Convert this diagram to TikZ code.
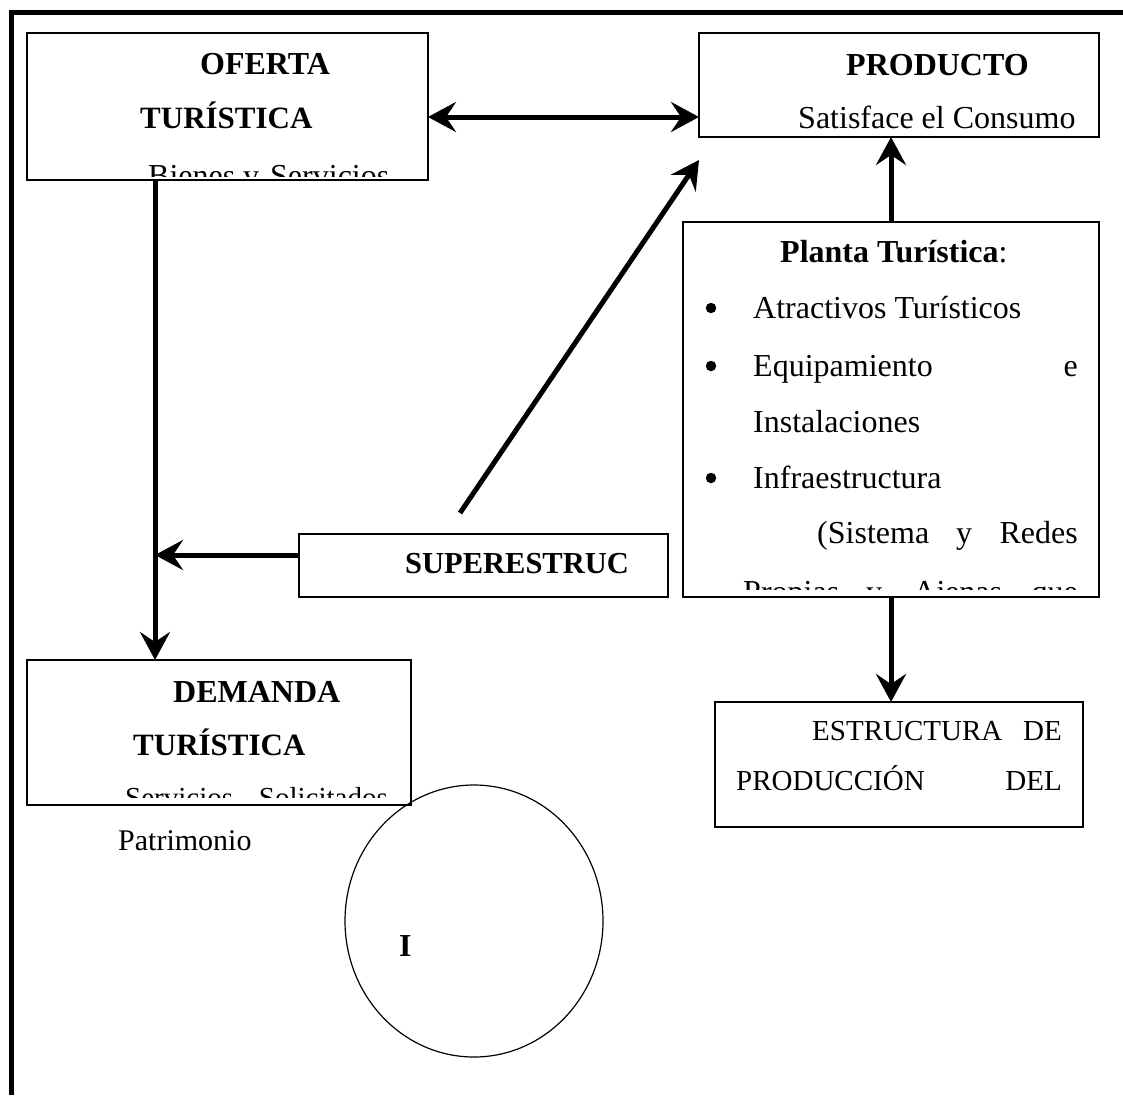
\documentclass[tikz,border=0pt]{standalone}
\usepackage{fontspec}
\setmainfont{Liberation Serif}
\usetikzlibrary{arrows.meta,shapes.geometric,calc}
\begin{document}
\begin{tikzpicture}[x=1pt,y=-1pt,
 box/.style={draw, line width=1.5pt, rectangle, inner sep=0pt, outer sep=0pt, anchor=north west},
 txt/.style={anchor=base west, inner sep=0pt, font=\fontsize{32}{38}\selectfont},
 txte/.style={anchor=base east, inner sep=0pt, font=\fontsize{32}{38}\selectfont},
 txtb/.style={anchor=base west, inner sep=0pt, font=\fontsize{32}{38}\selectfont\bfseries},
 sm/.style={font=\fontsize{29}{35}\selectfont},
 bul/.style={circle, fill=black, inner sep=0pt, minimum size=10.5pt},
 arr/.style={line width=5pt, -{Stealth[length=28pt,width=30pt,inset=10pt]}},
 darr/.style={line width=5pt, {Stealth[length=28pt,width=30pt,inset=10pt]}-{Stealth[length=28pt,width=30pt,inset=10pt]}},
]
\fill[white] (0,0) rectangle (1123,1095);
\useasboundingbox (0,0) rectangle (1123,1095);
% frame
\draw[line width=5pt, line join=miter] (11.5,1095) -- (11.5,12.5) -- (1123,12.5);

% boxes
\node[box, minimum width=401pt, minimum height=147pt] (ofe) at (27,33) {};
\node[box, minimum width=400pt, minimum height=104pt] (pro) at (699,33) {};
\node[box, minimum width=416pt, minimum height=375pt] (pla) at (683,222) {};
\node[box, minimum width=369pt, minimum height=63pt] (sup) at (299,534) {};
\node[box, minimum width=384pt, minimum height=145pt] (dem) at (27,660) {};
\node[box, minimum width=368pt, minimum height=125pt] (est) at (715,702) {};

% Oferta text
\begin{scope}
\clip (29,35) rectangle (426,176);
\node[txtb] (o1) at (200,74) {OFERTA};
\node[txtb, font=\fontsize{31}{37}\selectfont\bfseries] (o2) at (140,128) {TURÍSTICA};
\node[txt] (o3a) at (148,186) {Bienes};
\node[txt] (o3b) at (243,186) {y};
\node[txt] (o3c) at (270,186) {Servicios};
\end{scope}

% Producto text
\begin{scope}
\clip (701,35) rectangle (1097,130);
\node[txtb] (p1) at (846,75) {PRODUCTO};
\node[txt] (p2) at (798,128) {Satisface el Consumo};
\end{scope}

% Planta text
\begin{scope}
\clip (685,224) rectangle (1097,589);
\node[txtb] (q0) at (780,262) {Planta Turística\normalfont:};
\node[bul] (b1) at (711,308) {};
\node[bul] (b2) at (711,366) {};
\node[bul] (b3) at (711,478) {};
\node[txt] (q1) at (753,318) {Atractivos Turísticos};
\node[txt] (q2a) at (753,376) {Equipamiento};
\node[txte] (q2b) at (1078,376) {e};
\node[txt] (q3) at (753,432) {Instalaciones};
\node[txt] (q4) at (753,488) {Infraestructura};
\node[txt] (q5a) at (817,543) {(Sistema};
\node[txt] (q5b) at (956,543) {y};
\node[txte] (q5c) at (1078,543) {Redes};
\node[txt] (q6a) at (743,602) {Propias};
\node[txt] (q6b) at (866,602) {y};
\node[txt] (q6c) at (913,602) {Ajenas};
\node[txte] (q6d) at (1078,602) {que};
\end{scope}

% Superestructura
\begin{scope}
\clip (301,536) rectangle (666,595);
\node[txtb, font=\fontsize{30.5}{36}\selectfont\bfseries] (s1) at (405,573) {SUPERESTRUC};
\end{scope}

% Demanda
\begin{scope}
\clip (29,662) rectangle (409,797);
\node[txtb] (d1t) at (173,702) {DEMANDA};
\node[txtb, font=\fontsize{31}{37}\selectfont\bfseries] (d2t) at (133,755) {TURÍSTICA};
\node[txt, sm] (d3a) at (125,807) {Servicios};
\node[txte, sm] (d3b) at (388,807) {Solicitados};
\end{scope}

% Estructura
\begin{scope}
\clip (717,704) rectangle (1081,825);
\node[txt, sm] (e1a) at (812,740) {ESTRUCTURA};
\node[txte, sm] (e1b) at (1062,740) {DE};
\node[txt, sm] (e2a) at (736,790) {PRODUCCIÓN};
\node[txte, sm] (e2b) at (1062,790) {DEL};
\end{scope}

% Patrimonio & ellipse
\node[txt, font=\fontsize{30}{36}\selectfont] (pat) at (118,850) {Patrimonio};
\node[draw, ellipse, line width=1.2pt, minimum width=258pt, minimum height=272pt, inner sep=0pt] (ell) at (474,921) {};
\node[txtb] (ii) at (399,956) {I};

% connectors
\draw[darr] ([yshift=-10.5pt]ofe.east) coordinate (dd) -- (dd -| pro.west);
\draw[arr] ([xshift=128pt]ofe.south west) coordinate (v1) -- (v1 |- dem.north);
\draw[arr] ([yshift=10.5pt]sup.west) coordinate (h1) -- (h1 -| v1);
\coordinate (dg) at (460,513);
\draw[arr] (dg) -- ([yshift=-23pt]pro.south west);
\draw[arr] (pla.north) -- (pla.north |- pro.south);
\draw[arr] (pla.south) -- (pla.south |- est.north);
\end{tikzpicture}
\end{document}
